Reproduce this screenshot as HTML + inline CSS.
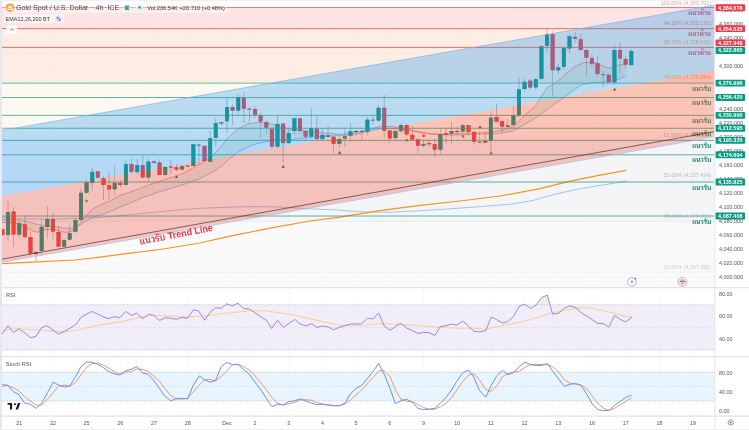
<!DOCTYPE html><html><head><meta charset="utf-8"><style>
html,body{margin:0;padding:0;background:#fff;width:749px;height:430px;overflow:hidden}
svg{display:block}
text{font-family:"Liberation Sans", "Noto Sans Thai Looped", sans-serif}
</style></head><body>
<svg width="749" height="430" viewBox="0 0 749 430">
<defs>
<clipPath id="cm"><rect x="2" y="0" width="712.5" height="287.5"/></clipPath>
<clipPath id="cr"><rect x="2" y="288" width="712.5" height="68"/></clipPath>
<clipPath id="cs"><rect x="2" y="357" width="712.5" height="59"/></clipPath>
</defs>
<rect x="0" y="0" width="749" height="430" fill="#ffffff"/>

<g clip-path="url(#cm)">
<rect x="2" y="0.00" width="712.5" height="8.28" fill="#ffffff"/>
<rect x="2" y="8.28" width="712.5" height="20.03" fill="#fde4e4"/>
<rect x="2" y="28.31" width="712.5" height="53.87" fill="#fdede3"/>
<rect x="2" y="82.19" width="712.5" height="58.01" fill="#fef9f0"/>
<rect x="2" y="140.20" width="712.5" height="40.75" fill="#f4f5f7"/>
<rect x="2" y="180.95" width="712.5" height="40.75" fill="#f4f5f7"/>
<rect x="2" y="221.70" width="712.5" height="50.42" fill="#fafafb"/>
<rect x="2" y="272.12" width="712.5" height="15.38" fill="#fafafb"/>
<line x1="2" x2="714.5" y1="140.20" y2="140.20" stroke="#e4e6ea" stroke-width="0.6"/>
<line x1="2" x2="714.5" y1="180.95" y2="180.95" stroke="#e4e6ea" stroke-width="0.6"/>
<line x1="2" x2="714.5" y1="221.70" y2="221.70" stroke="#e4e6ea" stroke-width="0.6"/>
<line x1="2" x2="714.5" y1="272.12" y2="272.12" stroke="#e4e6ea" stroke-width="0.6"/>
<line x1="19.2" x2="19.2" y1="0" y2="287.5" stroke="#dfe2e8" stroke-width="0.5" stroke-dasharray="0.8,0.8" opacity="0.45"/>
<line x1="52.9" x2="52.9" y1="0" y2="287.5" stroke="#dfe2e8" stroke-width="0.5" stroke-dasharray="0.8,0.8" opacity="0.45"/>
<line x1="86.6" x2="86.6" y1="0" y2="287.5" stroke="#dfe2e8" stroke-width="0.5" stroke-dasharray="0.8,0.8" opacity="0.45"/>
<line x1="120.3" x2="120.3" y1="0" y2="287.5" stroke="#dfe2e8" stroke-width="0.5" stroke-dasharray="0.8,0.8" opacity="0.45"/>
<line x1="154.0" x2="154.0" y1="0" y2="287.5" stroke="#dfe2e8" stroke-width="0.5" stroke-dasharray="0.8,0.8" opacity="0.45"/>
<line x1="187.7" x2="187.7" y1="0" y2="287.5" stroke="#dfe2e8" stroke-width="0.5" stroke-dasharray="0.8,0.8" opacity="0.45"/>
<line x1="227.0" x2="227.0" y1="0" y2="287.5" stroke="#dfe2e8" stroke-width="0.5" stroke-dasharray="0.8,0.8" opacity="0.45"/>
<line x1="255.1" x2="255.1" y1="0" y2="287.5" stroke="#dfe2e8" stroke-width="0.5" stroke-dasharray="0.8,0.8" opacity="0.45"/>
<line x1="288.8" x2="288.8" y1="0" y2="287.5" stroke="#dfe2e8" stroke-width="0.5" stroke-dasharray="0.8,0.8" opacity="0.45"/>
<line x1="322.5" x2="322.5" y1="0" y2="287.5" stroke="#dfe2e8" stroke-width="0.5" stroke-dasharray="0.8,0.8" opacity="0.45"/>
<line x1="356.1" x2="356.1" y1="0" y2="287.5" stroke="#dfe2e8" stroke-width="0.5" stroke-dasharray="0.8,0.8" opacity="0.45"/>
<line x1="389.8" x2="389.8" y1="0" y2="287.5" stroke="#dfe2e8" stroke-width="0.5" stroke-dasharray="0.8,0.8" opacity="0.45"/>
<line x1="423.5" x2="423.5" y1="0" y2="287.5" stroke="#dfe2e8" stroke-width="0.5" stroke-dasharray="0.8,0.8" opacity="0.45"/>
<line x1="457.2" x2="457.2" y1="0" y2="287.5" stroke="#dfe2e8" stroke-width="0.5" stroke-dasharray="0.8,0.8" opacity="0.45"/>
<line x1="490.9" x2="490.9" y1="0" y2="287.5" stroke="#dfe2e8" stroke-width="0.5" stroke-dasharray="0.8,0.8" opacity="0.45"/>
<line x1="524.6" x2="524.6" y1="0" y2="287.5" stroke="#dfe2e8" stroke-width="0.5" stroke-dasharray="0.8,0.8" opacity="0.45"/>
<line x1="558.3" x2="558.3" y1="0" y2="287.5" stroke="#dfe2e8" stroke-width="0.5" stroke-dasharray="0.8,0.8" opacity="0.45"/>
<line x1="592.0" x2="592.0" y1="0" y2="287.5" stroke="#dfe2e8" stroke-width="0.5" stroke-dasharray="0.8,0.8" opacity="0.45"/>
<line x1="625.7" x2="625.7" y1="0" y2="287.5" stroke="#dfe2e8" stroke-width="0.5" stroke-dasharray="0.8,0.8" opacity="0.45"/>
<line x1="659.4" x2="659.4" y1="0" y2="287.5" stroke="#dfe2e8" stroke-width="0.5" stroke-dasharray="0.8,0.8" opacity="0.45"/>
<line x1="693.0" x2="693.0" y1="0" y2="287.5" stroke="#dfe2e8" stroke-width="0.5" stroke-dasharray="0.8,0.8" opacity="0.45"/>
<line x1="2" x2="714.5" y1="277.3" y2="277.3" stroke="#dfe2e8" stroke-width="0.5" stroke-dasharray="0.8,0.8" opacity="0.45"/>
<line x1="2" x2="714.5" y1="263.3" y2="263.3" stroke="#dfe2e8" stroke-width="0.5" stroke-dasharray="0.8,0.8" opacity="0.45"/>
<line x1="2" x2="714.5" y1="249.3" y2="249.3" stroke="#dfe2e8" stroke-width="0.5" stroke-dasharray="0.8,0.8" opacity="0.45"/>
<line x1="2" x2="714.5" y1="235.2" y2="235.2" stroke="#dfe2e8" stroke-width="0.5" stroke-dasharray="0.8,0.8" opacity="0.45"/>
<line x1="2" x2="714.5" y1="221.2" y2="221.2" stroke="#dfe2e8" stroke-width="0.5" stroke-dasharray="0.8,0.8" opacity="0.45"/>
<line x1="2" x2="714.5" y1="207.2" y2="207.2" stroke="#dfe2e8" stroke-width="0.5" stroke-dasharray="0.8,0.8" opacity="0.45"/>
<line x1="2" x2="714.5" y1="193.2" y2="193.2" stroke="#dfe2e8" stroke-width="0.5" stroke-dasharray="0.8,0.8" opacity="0.45"/>
<line x1="2" x2="714.5" y1="179.1" y2="179.1" stroke="#dfe2e8" stroke-width="0.5" stroke-dasharray="0.8,0.8" opacity="0.45"/>
<line x1="2" x2="714.5" y1="165.1" y2="165.1" stroke="#dfe2e8" stroke-width="0.5" stroke-dasharray="0.8,0.8" opacity="0.45"/>
<line x1="2" x2="714.5" y1="151.1" y2="151.1" stroke="#dfe2e8" stroke-width="0.5" stroke-dasharray="0.8,0.8" opacity="0.45"/>
<line x1="2" x2="714.5" y1="137.1" y2="137.1" stroke="#dfe2e8" stroke-width="0.5" stroke-dasharray="0.8,0.8" opacity="0.45"/>
<line x1="2" x2="714.5" y1="123.1" y2="123.1" stroke="#dfe2e8" stroke-width="0.5" stroke-dasharray="0.8,0.8" opacity="0.45"/>
<line x1="2" x2="714.5" y1="109.0" y2="109.0" stroke="#dfe2e8" stroke-width="0.5" stroke-dasharray="0.8,0.8" opacity="0.45"/>
<line x1="2" x2="714.5" y1="95.0" y2="95.0" stroke="#dfe2e8" stroke-width="0.5" stroke-dasharray="0.8,0.8" opacity="0.45"/>
<line x1="2" x2="714.5" y1="81.0" y2="81.0" stroke="#dfe2e8" stroke-width="0.5" stroke-dasharray="0.8,0.8" opacity="0.45"/>
<line x1="2" x2="714.5" y1="67.0" y2="67.0" stroke="#dfe2e8" stroke-width="0.5" stroke-dasharray="0.8,0.8" opacity="0.45"/>
<line x1="2" x2="714.5" y1="52.9" y2="52.9" stroke="#dfe2e8" stroke-width="0.5" stroke-dasharray="0.8,0.8" opacity="0.45"/>
<line x1="2" x2="714.5" y1="38.9" y2="38.9" stroke="#dfe2e8" stroke-width="0.5" stroke-dasharray="0.8,0.8" opacity="0.45"/>
<line x1="2" x2="714.5" y1="24.9" y2="24.9" stroke="#dfe2e8" stroke-width="0.5" stroke-dasharray="0.8,0.8" opacity="0.45"/>
<line x1="2" x2="714.5" y1="10.9" y2="10.9" stroke="#dfe2e8" stroke-width="0.5" stroke-dasharray="0.8,0.8" opacity="0.45"/>
<text x="711" y="4.68" font-size="5.4" fill="#f4a0a0" text-anchor="end">100.00% (4,383.701)</text>
<text x="711" y="24.71" font-size="5.4" fill="#d0987c" text-anchor="end">94.20% (4,355.133)</text>
<text x="711" y="43.71" font-size="5.4" fill="#f0a862" text-anchor="end">88.70% (4,328.042)</text>
<text x="711" y="78.59" font-size="5.4" fill="#f0b070" text-anchor="end">78.60% (4,278.294)</text>
<text x="711" y="136.60" font-size="5.4" fill="#b8b8c0" text-anchor="end">61.80% (4,195.550)</text>
<text x="711" y="177.35" font-size="5.4" fill="#b8b8c0" text-anchor="end">50.00% (4,137.424)</text>
<text x="711" y="218.10" font-size="5.4" fill="#c8c8d0" text-anchor="end">38.20% (4,079.300)</text>
<text x="711" y="268.52" font-size="5.4" fill="#c8c8d0" text-anchor="end">23.60% (4,007.390)</text>
<polygon points="2.2,222.5 11.2,222.5 18.6,223.5 26.0,227.2 33.5,231.3 37.2,232.4 42.8,230.0 50.2,229.4 55.8,230.0 61.4,231.8 67.0,232.4 74.4,230.0 80.0,223.5 85.5,216.0 93.0,208.6 102.3,204.0 111.6,200.2 120.0,195.4 136.0,190.0 149.4,184.7 165.4,179.3 181.4,174.0 189.4,170.0 200.0,164.0 212.8,155.3 219.8,147.9 229.1,136.7 238.4,128.6 247.7,124.0 259.3,122.3 270.9,124.0 280.2,126.3 290.0,129.2 302.0,130.6 314.0,131.8 326.0,133.0 338.0,134.2 342.9,134.2 350.1,133.3 357.3,132.4 366.9,130.0 380.0,126.4 390.0,126.5 400.0,127.5 410.0,130.0 420.0,132.5 430.0,134.0 440.0,134.5 450.0,134.0 460.0,133.5 470.0,133.0 480.0,133.0 490.0,132.0 500.0,130.5 505.0,129.9 514.0,125.4 524.2,115.8 535.7,105.6 542.1,95.3 547.2,87.7 555.0,83.5 565.4,74.3 574.8,66.4 584.1,62.7 593.5,62.1 602.8,65.9 608.4,68.1 614.0,66.4 619.6,64.6 625.6,64.0 625.6,76.4 614.0,80.8 604.7,82.1 593.5,82.7 582.2,84.6 574.8,89.3 563.6,97.7 555.0,103.7 547.2,109.4 539.5,115.2 530.6,120.9 521.6,126.0 512.7,131.2 505.0,132.4 500.0,133.2 490.0,134.0 480.0,134.0 470.0,134.5 460.0,135.0 450.0,135.0 440.0,134.5 430.0,133.5 420.0,132.0 410.0,130.5 400.0,129.0 390.0,128.5 380.0,128.8 374.1,130.0 362.1,133.0 352.5,134.8 342.9,135.4 332.0,136.0 323.7,136.4 314.0,137.2 302.0,138.4 290.0,139.6 280.2,139.8 266.3,141.4 252.3,144.9 238.4,151.9 230.0,158.5 222.2,165.8 212.6,172.2 199.7,178.6 187.0,183.4 174.0,187.4 158.0,192.2 142.0,197.9 126.0,204.7 110.0,211.5 102.3,214.5 93.0,217.5 83.7,222.5 78.1,226.3 72.5,228.1 65.1,228.1 55.8,226.8 46.5,225.7 37.2,224.4 27.9,221.6 18.6,219.8 2.2,219.4" fill="#5aa860" opacity="0.13"/>
<polyline points="2.2,217.5 18.6,218.8 60.0,219.0 100.0,217.5 126.0,215.2 146.7,213.0 173.4,210.4 200.1,208.3 226.8,207.2 253.5,206.6 280.2,207.0 306.9,208.7 336.7,210.0 363.4,212.0 390.1,212.2 416.8,210.9 443.5,209.3 470.2,207.4 490.0,205.8 511.4,204.1 532.7,200.5 554.1,194.5 575.5,189.6 596.8,186.0 622.5,181.7 626.0,181.3" fill="none" stroke="#8fb8e8" stroke-width="0.8"/>
<polyline points="2.0,263.7 42.0,261.6 75.0,260.0 100.0,257.2 122.0,254.1 160.0,249.5 200.0,243.0 230.0,236.2 240.0,234.2 270.0,228.2 310.0,221.0 340.0,217.1 350.0,215.4 380.0,210.7 420.0,205.3 460.0,201.0 500.0,196.0 540.0,188.6 570.0,181.2 600.0,175.2 626.3,170.4" fill="none" stroke="#f7941d" stroke-width="1.2"/>
<polyline points="2.2,219.4 18.6,219.8 27.9,221.6 37.2,224.4 46.5,225.7 55.8,226.8 65.1,228.1 72.5,228.1 78.1,226.3 83.7,222.5 93.0,217.5 102.3,214.5 110.0,211.5 126.0,204.7 142.0,197.9 158.0,192.2 174.0,187.4 187.0,183.4 199.7,178.6 212.6,172.2 222.2,165.8 230.0,158.5 238.4,151.9 252.3,144.9 266.3,141.4 280.2,139.8 290.0,139.6 302.0,138.4 314.0,137.2 323.7,136.4 332.0,136.0 342.9,135.4 352.5,134.8 362.1,133.0 374.1,130.0 380.0,128.8 390.0,128.5 400.0,129.0 410.0,130.5 420.0,132.0 430.0,133.5 440.0,134.5 450.0,135.0 460.0,135.0 470.0,134.5 480.0,134.0 490.0,134.0 500.0,133.2 505.0,132.4 512.7,131.2 521.6,126.0 530.6,120.9 539.5,115.2 547.2,109.4 555.0,103.7 563.6,97.7 574.8,89.3 582.2,84.6 593.5,82.7 604.7,82.1 614.0,80.8 625.6,76.4" fill="none" stroke="#4a7fe0" stroke-width="0.6" opacity="0.8"/>
<polyline points="2.2,222.5 11.2,222.5 18.6,223.5 26.0,227.2 33.5,231.3 37.2,232.4 42.8,230.0 50.2,229.4 55.8,230.0 61.4,231.8 67.0,232.4 74.4,230.0 80.0,223.5 85.5,216.0 93.0,208.6 102.3,204.0 111.6,200.2 120.0,195.4 136.0,190.0 149.4,184.7 165.4,179.3 181.4,174.0 189.4,170.0 200.0,164.0 212.8,155.3 219.8,147.9 229.1,136.7 238.4,128.6 247.7,124.0 259.3,122.3 270.9,124.0 280.2,126.3 290.0,129.2 302.0,130.6 314.0,131.8 326.0,133.0 338.0,134.2 342.9,134.2 350.1,133.3 357.3,132.4 366.9,130.0 380.0,126.4 390.0,126.5 400.0,127.5 410.0,130.0 420.0,132.5 430.0,134.0 440.0,134.5 450.0,134.0 460.0,133.5 470.0,133.0 480.0,133.0 490.0,132.0 500.0,130.5 505.0,129.9 514.0,125.4 524.2,115.8 535.7,105.6 542.1,95.3 547.2,87.7 555.0,83.5 565.4,74.3 574.8,66.4 584.1,62.7 593.5,62.1 602.8,65.9 608.4,68.1 614.0,66.4 619.6,64.6 625.6,64.0" fill="none" stroke="#f04040" stroke-width="0.6" opacity="0.8"/>
<line x1="2.40" x2="2.40" y1="228.0" y2="236.0" stroke="#6b6e78" stroke-width="0.6" opacity="0.75"/>
<rect x="0.60" y="229.6" width="3.6" height="5.20" fill="#f5403c" stroke="#b02030" stroke-width="0.4"/>
<line x1="8.02" x2="8.02" y1="201.3" y2="240.3" stroke="#6b6e78" stroke-width="0.6" opacity="0.75"/>
<rect x="6.22" y="212.2" width="3.6" height="22.60" fill="#089981" stroke="#0a6b5a" stroke-width="0.4"/>
<line x1="13.63" x2="13.63" y1="207.7" y2="246.8" stroke="#6b6e78" stroke-width="0.6" opacity="0.75"/>
<rect x="11.83" y="211.79999999999998" width="3.6" height="22.50" fill="#f5403c" stroke="#b02030" stroke-width="0.4"/>
<line x1="19.24" x2="19.24" y1="220.5" y2="237.3" stroke="#6b6e78" stroke-width="0.6" opacity="0.75"/>
<rect x="17.44" y="223.7" width="3.6" height="10.60" fill="#089981" stroke="#0a6b5a" stroke-width="0.4"/>
<line x1="24.86" x2="24.86" y1="215.0" y2="238.3" stroke="#6b6e78" stroke-width="0.6" opacity="0.75"/>
<rect x="23.06" y="224.5" width="3.6" height="12.30" fill="#f5403c" stroke="#b02030" stroke-width="0.4"/>
<line x1="30.48" x2="30.48" y1="231.8" y2="256.0" stroke="#6b6e78" stroke-width="0.6" opacity="0.75"/>
<rect x="28.68" y="237.2" width="3.6" height="16.10" fill="#f5403c" stroke="#b02030" stroke-width="0.4"/>
<line x1="36.09" x2="36.09" y1="251.0" y2="261.0" stroke="#6b6e78" stroke-width="0.6" opacity="0.75"/>
<rect x="34.29" y="252.2" width="3.6" height="1.60" fill="#089981" stroke="#0a6b5a" stroke-width="0.4"/>
<line x1="41.70" x2="41.70" y1="218.5" y2="255.0" stroke="#6b6e78" stroke-width="0.6" opacity="0.75"/>
<rect x="39.91" y="227.0" width="3.6" height="23.80" fill="#089981" stroke="#0a6b5a" stroke-width="0.4"/>
<line x1="47.32" x2="47.32" y1="206.0" y2="238.3" stroke="#6b6e78" stroke-width="0.6" opacity="0.75"/>
<rect x="45.52" y="219.2" width="3.6" height="7.60" fill="#089981" stroke="#0a6b5a" stroke-width="0.4"/>
<line x1="52.94" x2="52.94" y1="212.6" y2="239.3" stroke="#6b6e78" stroke-width="0.6" opacity="0.75"/>
<rect x="51.14" y="219.2" width="3.6" height="12.40" fill="#f5403c" stroke="#b02030" stroke-width="0.4"/>
<line x1="58.55" x2="58.55" y1="225.5" y2="247.0" stroke="#6b6e78" stroke-width="0.6" opacity="0.75"/>
<rect x="56.75" y="232.2" width="3.6" height="14.00" fill="#f5403c" stroke="#b02030" stroke-width="0.4"/>
<line x1="64.17" x2="64.17" y1="238.3" y2="247.0" stroke="#6b6e78" stroke-width="0.6" opacity="0.75"/>
<rect x="62.37" y="240.2" width="3.6" height="6.40" fill="#089981" stroke="#0a6b5a" stroke-width="0.4"/>
<line x1="69.78" x2="69.78" y1="223.0" y2="240.3" stroke="#6b6e78" stroke-width="0.6" opacity="0.75"/>
<rect x="67.98" y="233.2" width="3.6" height="6.30" fill="#089981" stroke="#0a6b5a" stroke-width="0.4"/>
<line x1="75.40" x2="75.40" y1="217.5" y2="233.0" stroke="#6b6e78" stroke-width="0.6" opacity="0.75"/>
<rect x="73.60" y="220.2" width="3.6" height="11.40" fill="#089981" stroke="#0a6b5a" stroke-width="0.4"/>
<line x1="81.01" x2="81.01" y1="189.0" y2="221.5" stroke="#6b6e78" stroke-width="0.6" opacity="0.75"/>
<rect x="79.21" y="193.0" width="3.6" height="26.80" fill="#089981" stroke="#0a6b5a" stroke-width="0.4"/>
<line x1="86.63" x2="86.63" y1="180.0" y2="193.5" stroke="#6b6e78" stroke-width="0.6" opacity="0.75"/>
<rect x="84.83" y="182.6" width="3.6" height="10.00" fill="#089981" stroke="#0a6b5a" stroke-width="0.4"/>
<line x1="92.24" x2="92.24" y1="168.0" y2="190.9" stroke="#6b6e78" stroke-width="0.6" opacity="0.75"/>
<rect x="90.44" y="172.1" width="3.6" height="10.70" fill="#089981" stroke="#0a6b5a" stroke-width="0.4"/>
<line x1="97.86" x2="97.86" y1="171.0" y2="178.4" stroke="#6b6e78" stroke-width="0.6" opacity="0.75"/>
<rect x="96.06" y="171.7" width="3.6" height="5.90" fill="#f5403c" stroke="#b02030" stroke-width="0.4"/>
<line x1="103.47" x2="103.47" y1="176.0" y2="200.0" stroke="#6b6e78" stroke-width="0.6" opacity="0.75"/>
<rect x="101.67" y="178.6" width="3.6" height="6.20" fill="#f5403c" stroke="#b02030" stroke-width="0.4"/>
<line x1="109.09" x2="109.09" y1="171.9" y2="199.2" stroke="#6b6e78" stroke-width="0.6" opacity="0.75"/>
<rect x="107.29" y="185.5" width="3.6" height="3.60" fill="#f5403c" stroke="#b02030" stroke-width="0.4"/>
<line x1="114.70" x2="114.70" y1="165.6" y2="194.8" stroke="#6b6e78" stroke-width="0.6" opacity="0.75"/>
<rect x="112.90" y="183.2" width="3.6" height="5.90" fill="#089981" stroke="#0a6b5a" stroke-width="0.4"/>
<line x1="120.32" x2="120.32" y1="179.4" y2="187.7" stroke="#6b6e78" stroke-width="0.6" opacity="0.75"/>
<rect x="118.52" y="183.2" width="3.6" height="1.60" fill="#f5403c" stroke="#b02030" stroke-width="0.4"/>
<line x1="125.93" x2="125.93" y1="160.6" y2="185.3" stroke="#6b6e78" stroke-width="0.6" opacity="0.75"/>
<rect x="124.13" y="164.2" width="3.6" height="20.60" fill="#089981" stroke="#0a6b5a" stroke-width="0.4"/>
<line x1="131.55" x2="131.55" y1="158.7" y2="173.9" stroke="#6b6e78" stroke-width="0.6" opacity="0.75"/>
<rect x="129.75" y="164.2" width="3.6" height="7.50" fill="#f5403c" stroke="#b02030" stroke-width="0.4"/>
<line x1="137.16" x2="137.16" y1="159.2" y2="173.9" stroke="#6b6e78" stroke-width="0.6" opacity="0.75"/>
<rect x="135.36" y="165.39999999999998" width="3.6" height="6.50" fill="#089981" stroke="#0a6b5a" stroke-width="0.4"/>
<line x1="142.78" x2="142.78" y1="155.7" y2="178.4" stroke="#6b6e78" stroke-width="0.6" opacity="0.75"/>
<rect x="140.97" y="165.39999999999998" width="3.6" height="11.80" fill="#f5403c" stroke="#b02030" stroke-width="0.4"/>
<line x1="148.39" x2="148.39" y1="157.3" y2="181.4" stroke="#6b6e78" stroke-width="0.6" opacity="0.75"/>
<rect x="146.59" y="161.79999999999998" width="3.6" height="15.40" fill="#089981" stroke="#0a6b5a" stroke-width="0.4"/>
<line x1="154.01" x2="154.01" y1="160.0" y2="163.6" stroke="#6b6e78" stroke-width="0.6" opacity="0.75"/>
<rect x="152.21" y="161.79999999999998" width="3.6" height="1.00" fill="#f5403c" stroke="#b02030" stroke-width="0.4"/>
<line x1="159.62" x2="159.62" y1="159.2" y2="175.8" stroke="#6b6e78" stroke-width="0.6" opacity="0.75"/>
<rect x="157.82" y="162.79999999999998" width="3.6" height="12.00" fill="#f5403c" stroke="#b02030" stroke-width="0.4"/>
<line x1="165.24" x2="165.24" y1="166.0" y2="176.4" stroke="#6b6e78" stroke-width="0.6" opacity="0.75"/>
<rect x="163.44" y="167.2" width="3.6" height="7.60" fill="#089981" stroke="#0a6b5a" stroke-width="0.4"/>
<line x1="170.85" x2="170.85" y1="160.0" y2="173.9" stroke="#6b6e78" stroke-width="0.6" opacity="0.75"/>
<rect x="169.05" y="166.79999999999998" width="3.6" height="0.50" fill="#f5403c" stroke="#b02030" stroke-width="0.4"/>
<line x1="176.47" x2="176.47" y1="164.0" y2="171.5" stroke="#6b6e78" stroke-width="0.6" opacity="0.75"/>
<rect x="174.66" y="167.7" width="3.6" height="1.60" fill="#f5403c" stroke="#b02030" stroke-width="0.4"/>
<line x1="182.08" x2="182.08" y1="165.0" y2="170.5" stroke="#6b6e78" stroke-width="0.6" opacity="0.75"/>
<rect x="180.28" y="166.2" width="3.6" height="3.10" fill="#089981" stroke="#0a6b5a" stroke-width="0.4"/>
<line x1="187.70" x2="187.70" y1="165.0" y2="167.0" stroke="#6b6e78" stroke-width="0.6" opacity="0.75"/>
<rect x="185.90" y="165.79999999999998" width="3.6" height="0.60" fill="#f5403c" stroke="#b02030" stroke-width="0.4"/>
<line x1="193.31" x2="193.31" y1="143.3" y2="166.4" stroke="#6b6e78" stroke-width="0.6" opacity="0.75"/>
<rect x="191.51" y="144.5" width="3.6" height="21.30" fill="#089981" stroke="#0a6b5a" stroke-width="0.4"/>
<line x1="198.93" x2="198.93" y1="143.9" y2="164.0" stroke="#6b6e78" stroke-width="0.6" opacity="0.75"/>
<rect x="197.12" y="144.89999999999998" width="3.6" height="0.60" fill="#f5403c" stroke="#b02030" stroke-width="0.4"/>
<line x1="204.54" x2="204.54" y1="145.3" y2="162.0" stroke="#6b6e78" stroke-width="0.6" opacity="0.75"/>
<rect x="202.74" y="146.1" width="3.6" height="14.70" fill="#f5403c" stroke="#b02030" stroke-width="0.4"/>
<line x1="210.16" x2="210.16" y1="130.5" y2="162.5" stroke="#6b6e78" stroke-width="0.6" opacity="0.75"/>
<rect x="208.35" y="138.6" width="3.6" height="22.90" fill="#089981" stroke="#0a6b5a" stroke-width="0.4"/>
<line x1="215.77" x2="215.77" y1="118.6" y2="146.3" stroke="#6b6e78" stroke-width="0.6" opacity="0.75"/>
<rect x="213.97" y="123.3" width="3.6" height="14.50" fill="#089981" stroke="#0a6b5a" stroke-width="0.4"/>
<line x1="221.39" x2="221.39" y1="121.8" y2="125.5" stroke="#6b6e78" stroke-width="0.6" opacity="0.75"/>
<rect x="219.59" y="122.60000000000001" width="3.6" height="0.70" fill="#f5403c" stroke="#b02030" stroke-width="0.4"/>
<line x1="227.00" x2="227.00" y1="97.8" y2="132.8" stroke="#6b6e78" stroke-width="0.6" opacity="0.75"/>
<rect x="225.20" y="107.2" width="3.6" height="13.80" fill="#089981" stroke="#0a6b5a" stroke-width="0.4"/>
<line x1="232.62" x2="232.62" y1="104.2" y2="125.5" stroke="#6b6e78" stroke-width="0.6" opacity="0.75"/>
<rect x="230.81" y="107.2" width="3.6" height="3.30" fill="#f5403c" stroke="#b02030" stroke-width="0.4"/>
<line x1="238.23" x2="238.23" y1="93.9" y2="114.6" stroke="#6b6e78" stroke-width="0.6" opacity="0.75"/>
<rect x="236.43" y="97.5" width="3.6" height="13.00" fill="#089981" stroke="#0a6b5a" stroke-width="0.4"/>
<line x1="243.85" x2="243.85" y1="91.9" y2="123.0" stroke="#6b6e78" stroke-width="0.6" opacity="0.75"/>
<rect x="242.05" y="98.0" width="3.6" height="10.50" fill="#f5403c" stroke="#b02030" stroke-width="0.4"/>
<line x1="249.46" x2="249.46" y1="106.7" y2="122.5" stroke="#6b6e78" stroke-width="0.6" opacity="0.75"/>
<rect x="247.66" y="108.9" width="3.6" height="0.50" fill="#f5403c" stroke="#b02030" stroke-width="0.4"/>
<line x1="255.08" x2="255.08" y1="106.7" y2="117.6" stroke="#6b6e78" stroke-width="0.6" opacity="0.75"/>
<rect x="253.28" y="109.2" width="3.6" height="5.20" fill="#f5403c" stroke="#b02030" stroke-width="0.4"/>
<line x1="260.69" x2="260.69" y1="112.3" y2="138.4" stroke="#6b6e78" stroke-width="0.6" opacity="0.75"/>
<rect x="258.89" y="115.4" width="3.6" height="6.00" fill="#f5403c" stroke="#b02030" stroke-width="0.4"/>
<line x1="266.31" x2="266.31" y1="119.6" y2="134.4" stroke="#6b6e78" stroke-width="0.6" opacity="0.75"/>
<rect x="264.50" y="122.2" width="3.6" height="5.10" fill="#f5403c" stroke="#b02030" stroke-width="0.4"/>
<line x1="271.92" x2="271.92" y1="127.1" y2="149.2" stroke="#6b6e78" stroke-width="0.6" opacity="0.75"/>
<rect x="270.12" y="129.1" width="3.6" height="17.40" fill="#f5403c" stroke="#b02030" stroke-width="0.4"/>
<line x1="277.53" x2="277.53" y1="115.6" y2="148.2" stroke="#6b6e78" stroke-width="0.6" opacity="0.75"/>
<rect x="275.73" y="124.10000000000001" width="3.6" height="22.40" fill="#089981" stroke="#0a6b5a" stroke-width="0.4"/>
<line x1="283.15" x2="283.15" y1="123.3" y2="162.3" stroke="#6b6e78" stroke-width="0.6" opacity="0.75"/>
<rect x="281.35" y="123.9" width="3.6" height="19.00" fill="#f5403c" stroke="#b02030" stroke-width="0.4"/>
<line x1="288.76" x2="288.76" y1="129.6" y2="143.9" stroke="#6b6e78" stroke-width="0.6" opacity="0.75"/>
<rect x="286.96" y="133.2" width="3.6" height="9.70" fill="#089981" stroke="#0a6b5a" stroke-width="0.4"/>
<line x1="294.38" x2="294.38" y1="117.4" y2="135.2" stroke="#6b6e78" stroke-width="0.6" opacity="0.75"/>
<rect x="292.58" y="118.60000000000001" width="3.6" height="12.20" fill="#089981" stroke="#0a6b5a" stroke-width="0.4"/>
<line x1="300.00" x2="300.00" y1="117.4" y2="133.6" stroke="#6b6e78" stroke-width="0.6" opacity="0.75"/>
<rect x="298.19" y="118.60000000000001" width="3.6" height="12.20" fill="#f5403c" stroke="#b02030" stroke-width="0.4"/>
<line x1="305.61" x2="305.61" y1="129.6" y2="139.5" stroke="#6b6e78" stroke-width="0.6" opacity="0.75"/>
<rect x="303.81" y="131.2" width="3.6" height="5.40" fill="#f5403c" stroke="#b02030" stroke-width="0.4"/>
<line x1="311.22" x2="311.22" y1="107.5" y2="138.5" stroke="#6b6e78" stroke-width="0.6" opacity="0.75"/>
<rect x="309.42" y="128.5" width="3.6" height="7.90" fill="#089981" stroke="#0a6b5a" stroke-width="0.4"/>
<line x1="316.84" x2="316.84" y1="116.8" y2="139.5" stroke="#6b6e78" stroke-width="0.6" opacity="0.75"/>
<rect x="315.04" y="128.89999999999998" width="3.6" height="10.00" fill="#f5403c" stroke="#b02030" stroke-width="0.4"/>
<line x1="322.45" x2="322.45" y1="128.7" y2="139.5" stroke="#6b6e78" stroke-width="0.6" opacity="0.75"/>
<rect x="320.65" y="135.0" width="3.6" height="3.90" fill="#089981" stroke="#0a6b5a" stroke-width="0.4"/>
<line x1="328.07" x2="328.07" y1="125.3" y2="137.5" stroke="#6b6e78" stroke-width="0.6" opacity="0.75"/>
<rect x="326.27" y="135.39999999999998" width="3.6" height="1.40" fill="#f5403c" stroke="#b02030" stroke-width="0.4"/>
<line x1="333.69" x2="333.69" y1="135.6" y2="153.8" stroke="#6b6e78" stroke-width="0.6" opacity="0.75"/>
<rect x="331.88" y="137.0" width="3.6" height="6.70" fill="#f5403c" stroke="#b02030" stroke-width="0.4"/>
<line x1="339.30" x2="339.30" y1="135.2" y2="148.4" stroke="#6b6e78" stroke-width="0.6" opacity="0.75"/>
<rect x="337.50" y="139.29999999999998" width="3.6" height="4.40" fill="#089981" stroke="#0a6b5a" stroke-width="0.4"/>
<line x1="344.91" x2="344.91" y1="129.2" y2="147.0" stroke="#6b6e78" stroke-width="0.6" opacity="0.75"/>
<rect x="343.11" y="136.39999999999998" width="3.6" height="2.30" fill="#089981" stroke="#0a6b5a" stroke-width="0.4"/>
<line x1="350.53" x2="350.53" y1="123.3" y2="141.9" stroke="#6b6e78" stroke-width="0.6" opacity="0.75"/>
<rect x="348.73" y="131.39999999999998" width="3.6" height="4.00" fill="#089981" stroke="#0a6b5a" stroke-width="0.4"/>
<line x1="356.14" x2="356.14" y1="129.6" y2="135.6" stroke="#6b6e78" stroke-width="0.6" opacity="0.75"/>
<rect x="354.34" y="131.2" width="3.6" height="0.60" fill="#f5403c" stroke="#b02030" stroke-width="0.4"/>
<line x1="361.76" x2="361.76" y1="129.2" y2="139.5" stroke="#6b6e78" stroke-width="0.6" opacity="0.75"/>
<rect x="359.96" y="131.2" width="3.6" height="0.60" fill="#f5403c" stroke="#b02030" stroke-width="0.4"/>
<line x1="367.38" x2="367.38" y1="116.7" y2="135.5" stroke="#6b6e78" stroke-width="0.6" opacity="0.75"/>
<rect x="365.57" y="119.9" width="3.6" height="11.50" fill="#089981" stroke="#0a6b5a" stroke-width="0.4"/>
<line x1="372.99" x2="372.99" y1="115.8" y2="124.6" stroke="#6b6e78" stroke-width="0.6" opacity="0.75"/>
<rect x="371.19" y="119.9" width="3.6" height="0.60" fill="#f5403c" stroke="#b02030" stroke-width="0.4"/>
<line x1="378.61" x2="378.61" y1="104.9" y2="121.7" stroke="#6b6e78" stroke-width="0.6" opacity="0.75"/>
<rect x="376.81" y="108.0" width="3.6" height="12.50" fill="#089981" stroke="#0a6b5a" stroke-width="0.4"/>
<line x1="384.22" x2="384.22" y1="95.0" y2="137.5" stroke="#6b6e78" stroke-width="0.6" opacity="0.75"/>
<rect x="382.42" y="108.0" width="3.6" height="22.40" fill="#f5403c" stroke="#b02030" stroke-width="0.4"/>
<line x1="389.83" x2="389.83" y1="129.6" y2="142.4" stroke="#6b6e78" stroke-width="0.6" opacity="0.75"/>
<rect x="388.03" y="130.79999999999998" width="3.6" height="7.50" fill="#f5403c" stroke="#b02030" stroke-width="0.4"/>
<line x1="395.45" x2="395.45" y1="130.2" y2="141.4" stroke="#6b6e78" stroke-width="0.6" opacity="0.75"/>
<rect x="393.65" y="131.39999999999998" width="3.6" height="6.50" fill="#089981" stroke="#0a6b5a" stroke-width="0.4"/>
<line x1="401.06" x2="401.06" y1="123.4" y2="133.1" stroke="#6b6e78" stroke-width="0.6" opacity="0.75"/>
<rect x="399.26" y="125.2" width="3.6" height="5.80" fill="#089981" stroke="#0a6b5a" stroke-width="0.4"/>
<line x1="406.68" x2="406.68" y1="124.3" y2="136.1" stroke="#6b6e78" stroke-width="0.6" opacity="0.75"/>
<rect x="404.88" y="125.2" width="3.6" height="9.00" fill="#f5403c" stroke="#b02030" stroke-width="0.4"/>
<line x1="412.30" x2="412.30" y1="125.8" y2="139.7" stroke="#6b6e78" stroke-width="0.6" opacity="0.75"/>
<rect x="410.50" y="135.0" width="3.6" height="4.30" fill="#f5403c" stroke="#b02030" stroke-width="0.4"/>
<line x1="417.91" x2="417.91" y1="138.5" y2="153.2" stroke="#6b6e78" stroke-width="0.6" opacity="0.75"/>
<rect x="416.11" y="139.7" width="3.6" height="5.90" fill="#f5403c" stroke="#b02030" stroke-width="0.4"/>
<line x1="423.52" x2="423.52" y1="140.3" y2="147.3" stroke="#6b6e78" stroke-width="0.6" opacity="0.75"/>
<rect x="421.72" y="144.39999999999998" width="3.6" height="1.20" fill="#089981" stroke="#0a6b5a" stroke-width="0.4"/>
<line x1="429.14" x2="429.14" y1="139.0" y2="146.8" stroke="#6b6e78" stroke-width="0.6" opacity="0.75"/>
<rect x="427.34" y="143.6" width="3.6" height="0.50" fill="#f5403c" stroke="#b02030" stroke-width="0.4"/>
<line x1="434.75" x2="434.75" y1="138.5" y2="157.5" stroke="#6b6e78" stroke-width="0.6" opacity="0.75"/>
<rect x="432.95" y="144.39999999999998" width="3.6" height="5.10" fill="#f5403c" stroke="#b02030" stroke-width="0.4"/>
<line x1="440.37" x2="440.37" y1="128.7" y2="153.6" stroke="#6b6e78" stroke-width="0.6" opacity="0.75"/>
<rect x="438.57" y="134.6" width="3.6" height="14.90" fill="#089981" stroke="#0a6b5a" stroke-width="0.4"/>
<line x1="445.99" x2="445.99" y1="127.6" y2="143.4" stroke="#6b6e78" stroke-width="0.6" opacity="0.75"/>
<rect x="444.19" y="133.29999999999998" width="3.6" height="1.00" fill="#f5403c" stroke="#b02030" stroke-width="0.4"/>
<line x1="451.60" x2="451.60" y1="121.7" y2="143.4" stroke="#6b6e78" stroke-width="0.6" opacity="0.75"/>
<rect x="449.80" y="131.2" width="3.6" height="2.10" fill="#089981" stroke="#0a6b5a" stroke-width="0.4"/>
<line x1="457.21" x2="457.21" y1="126.6" y2="134.5" stroke="#6b6e78" stroke-width="0.6" opacity="0.75"/>
<rect x="455.41" y="131.2" width="3.6" height="0.60" fill="#f5403c" stroke="#b02030" stroke-width="0.4"/>
<line x1="462.83" x2="462.83" y1="123.6" y2="132.5" stroke="#6b6e78" stroke-width="0.6" opacity="0.75"/>
<rect x="461.03" y="125.4" width="3.6" height="5.90" fill="#089981" stroke="#0a6b5a" stroke-width="0.4"/>
<line x1="468.44" x2="468.44" y1="124.6" y2="135.5" stroke="#6b6e78" stroke-width="0.6" opacity="0.75"/>
<rect x="466.64" y="125.4" width="3.6" height="6.30" fill="#f5403c" stroke="#b02030" stroke-width="0.4"/>
<line x1="474.06" x2="474.06" y1="130.5" y2="144.9" stroke="#6b6e78" stroke-width="0.6" opacity="0.75"/>
<rect x="472.26" y="132.1" width="3.6" height="9.50" fill="#f5403c" stroke="#b02030" stroke-width="0.4"/>
<line x1="479.68" x2="479.68" y1="131.5" y2="143.0" stroke="#6b6e78" stroke-width="0.6" opacity="0.75"/>
<rect x="477.88" y="142.0" width="3.6" height="0.50" fill="#f5403c" stroke="#b02030" stroke-width="0.4"/>
<line x1="485.29" x2="485.29" y1="133.0" y2="143.4" stroke="#6b6e78" stroke-width="0.6" opacity="0.75"/>
<rect x="483.49" y="141.0" width="3.6" height="1.20" fill="#089981" stroke="#0a6b5a" stroke-width="0.4"/>
<line x1="490.90" x2="490.90" y1="110.8" y2="154.2" stroke="#6b6e78" stroke-width="0.6" opacity="0.75"/>
<rect x="489.10" y="117.9" width="3.6" height="22.30" fill="#089981" stroke="#0a6b5a" stroke-width="0.4"/>
<line x1="496.52" x2="496.52" y1="103.4" y2="122.6" stroke="#6b6e78" stroke-width="0.6" opacity="0.75"/>
<rect x="494.72" y="117.2" width="3.6" height="4.20" fill="#f5403c" stroke="#b02030" stroke-width="0.4"/>
<line x1="502.13" x2="502.13" y1="119.6" y2="133.5" stroke="#6b6e78" stroke-width="0.6" opacity="0.75"/>
<rect x="500.33" y="121.4" width="3.6" height="5.00" fill="#f5403c" stroke="#b02030" stroke-width="0.4"/>
<line x1="507.75" x2="507.75" y1="119.2" y2="127.6" stroke="#6b6e78" stroke-width="0.6" opacity="0.75"/>
<rect x="505.95" y="125.4" width="3.6" height="1.20" fill="#089981" stroke="#0a6b5a" stroke-width="0.4"/>
<line x1="513.37" x2="513.37" y1="106.2" y2="127.6" stroke="#6b6e78" stroke-width="0.6" opacity="0.75"/>
<rect x="511.56" y="115.5" width="3.6" height="9.30" fill="#089981" stroke="#0a6b5a" stroke-width="0.4"/>
<line x1="518.98" x2="518.98" y1="77.0" y2="117.3" stroke="#6b6e78" stroke-width="0.6" opacity="0.75"/>
<rect x="517.18" y="89.5" width="3.6" height="25.70" fill="#089981" stroke="#0a6b5a" stroke-width="0.4"/>
<line x1="524.60" x2="524.60" y1="78.6" y2="91.5" stroke="#6b6e78" stroke-width="0.6" opacity="0.75"/>
<rect x="522.80" y="82.0" width="3.6" height="6.80" fill="#089981" stroke="#0a6b5a" stroke-width="0.4"/>
<line x1="530.21" x2="530.21" y1="78.8" y2="90.0" stroke="#6b6e78" stroke-width="0.6" opacity="0.75"/>
<rect x="528.41" y="80.9" width="3.6" height="6.30" fill="#f5403c" stroke="#b02030" stroke-width="0.4"/>
<line x1="535.83" x2="535.83" y1="78.0" y2="90.0" stroke="#6b6e78" stroke-width="0.6" opacity="0.75"/>
<rect x="534.03" y="79.4" width="3.6" height="7.80" fill="#089981" stroke="#0a6b5a" stroke-width="0.4"/>
<line x1="541.44" x2="541.44" y1="45.4" y2="80.0" stroke="#6b6e78" stroke-width="0.6" opacity="0.75"/>
<rect x="539.64" y="46.400000000000006" width="3.6" height="32.20" fill="#089981" stroke="#0a6b5a" stroke-width="0.4"/>
<line x1="547.05" x2="547.05" y1="29.2" y2="51.5" stroke="#6b6e78" stroke-width="0.6" opacity="0.75"/>
<rect x="545.25" y="34.6" width="3.6" height="11.10" fill="#089981" stroke="#0a6b5a" stroke-width="0.4"/>
<line x1="552.67" x2="552.67" y1="31.0" y2="96.5" stroke="#6b6e78" stroke-width="0.6" opacity="0.75"/>
<rect x="550.87" y="34.300000000000004" width="3.6" height="35.70" fill="#f5403c" stroke="#b02030" stroke-width="0.4"/>
<line x1="558.28" x2="558.28" y1="64.0" y2="74.4" stroke="#6b6e78" stroke-width="0.6" opacity="0.75"/>
<rect x="556.49" y="67.60000000000001" width="3.6" height="2.50" fill="#089981" stroke="#0a6b5a" stroke-width="0.4"/>
<line x1="563.90" x2="563.90" y1="47.4" y2="70.5" stroke="#6b6e78" stroke-width="0.6" opacity="0.75"/>
<rect x="562.10" y="48.2" width="3.6" height="18.50" fill="#089981" stroke="#0a6b5a" stroke-width="0.4"/>
<line x1="569.51" x2="569.51" y1="33.8" y2="53.0" stroke="#6b6e78" stroke-width="0.6" opacity="0.75"/>
<rect x="567.72" y="36.5" width="3.6" height="11.70" fill="#089981" stroke="#0a6b5a" stroke-width="0.4"/>
<line x1="575.13" x2="575.13" y1="31.8" y2="42.8" stroke="#6b6e78" stroke-width="0.6" opacity="0.75"/>
<rect x="573.33" y="37.0" width="3.6" height="1.70" fill="#f5403c" stroke="#b02030" stroke-width="0.4"/>
<line x1="580.75" x2="580.75" y1="33.3" y2="50.7" stroke="#6b6e78" stroke-width="0.6" opacity="0.75"/>
<rect x="578.95" y="39.6" width="3.6" height="10.20" fill="#f5403c" stroke="#b02030" stroke-width="0.4"/>
<line x1="586.36" x2="586.36" y1="49.2" y2="76.8" stroke="#6b6e78" stroke-width="0.6" opacity="0.75"/>
<rect x="584.56" y="50.2" width="3.6" height="7.10" fill="#f5403c" stroke="#b02030" stroke-width="0.4"/>
<line x1="591.98" x2="591.98" y1="54.6" y2="66.5" stroke="#6b6e78" stroke-width="0.6" opacity="0.75"/>
<rect x="590.18" y="58.1" width="3.6" height="5.50" fill="#f5403c" stroke="#b02030" stroke-width="0.4"/>
<line x1="597.59" x2="597.59" y1="56.0" y2="76.0" stroke="#6b6e78" stroke-width="0.6" opacity="0.75"/>
<rect x="595.79" y="63.6" width="3.6" height="10.20" fill="#f5403c" stroke="#b02030" stroke-width="0.4"/>
<line x1="603.21" x2="603.21" y1="71.1" y2="86.5" stroke="#6b6e78" stroke-width="0.6" opacity="0.75"/>
<rect x="601.41" y="74.5" width="3.6" height="0.50" fill="#9598a1" stroke="#6b6e78" stroke-width="0.4"/>
<line x1="608.82" x2="608.82" y1="74.1" y2="83.2" stroke="#6b6e78" stroke-width="0.6" opacity="0.75"/>
<rect x="607.02" y="74.9" width="3.6" height="7.20" fill="#f5403c" stroke="#b02030" stroke-width="0.4"/>
<line x1="614.43" x2="614.43" y1="44.7" y2="85.0" stroke="#6b6e78" stroke-width="0.6" opacity="0.75"/>
<rect x="612.63" y="50.2" width="3.6" height="31.90" fill="#089981" stroke="#0a6b5a" stroke-width="0.4"/>
<line x1="620.05" x2="620.05" y1="42.4" y2="73.0" stroke="#6b6e78" stroke-width="0.6" opacity="0.75"/>
<rect x="618.25" y="50.2" width="3.6" height="8.10" fill="#f5403c" stroke="#b02030" stroke-width="0.4"/>
<line x1="625.66" x2="625.66" y1="55.8" y2="68.4" stroke="#6b6e78" stroke-width="0.6" opacity="0.75"/>
<rect x="623.87" y="59.1" width="3.6" height="5.30" fill="#f5403c" stroke="#b02030" stroke-width="0.4"/>
<line x1="631.28" x2="631.28" y1="48.9" y2="65.6" stroke="#6b6e78" stroke-width="0.6" opacity="0.75"/>
<rect x="629.48" y="51.2" width="3.6" height="13.70" fill="#089981" stroke="#0a6b5a" stroke-width="0.4"/>
<path d="M174.9,178.1 L176.5,175.4 L178.1,178.1Z" fill="#0f5a40"/>
<path d="M281.6,167.7 L283.2,165.0 L284.8,167.7Z" fill="#0f5a40"/>
<path d="M338.0,153.7 L339.6,151.0 L341.2,153.7Z" fill="#0f5a40"/>
<path d="M613.0,90.6 L614.6,87.9 L616.2,90.6Z" fill="#0f5a40"/>
<circle cx="86.6" cy="201" r="1.3" fill="#6a9a30"/>
<circle cx="406.9" cy="140.3" r="1.3" fill="#6a9a30"/>
<circle cx="463" cy="136.4" r="1.3" fill="#6a9a30"/>
<circle cx="491.1" cy="153.2" r="1.3" fill="#6a9a30"/>
<circle cx="423.6" cy="135.9" r="1.3" fill="#e83040"/>
<circle cx="480" cy="127.2" r="1.3" fill="#e83040"/>
<line x1="2" x2="714.5" y1="7.60" y2="7.60" stroke="#f0504a" stroke-width="1" opacity="0.85"/>
<text x="711" y="15.20" font-size="6.7" font-weight="500" fill="#f03444" text-anchor="end" style="font-family:'Liberation Sans', 'Noto Sans Thai Looped', sans-serif">แนวต้าน</text>
<line x1="2" x2="714.5" y1="28.66" y2="28.66" stroke="#f0504a" stroke-width="1" opacity="0.85"/>
<text x="711" y="36.26" font-size="6.7" font-weight="500" fill="#f03444" text-anchor="end" style="font-family:'Liberation Sans', 'Noto Sans Thai Looped', sans-serif">แนวต้าน</text>
<line x1="2" x2="714.5" y1="47.37" y2="47.37" stroke="#f0504a" stroke-width="1" opacity="0.85"/>
<text x="711" y="54.97" font-size="6.7" font-weight="500" fill="#f03444" text-anchor="end" style="font-family:'Liberation Sans', 'Noto Sans Thai Looped', sans-serif">แนวต้าน</text>
<line x1="2" x2="714.5" y1="83.10" y2="83.10" stroke="#2a9a7e" stroke-width="1" opacity="0.75"/>
<text x="711.5" y="90.70" font-size="6.7" font-weight="600" fill="#1a8a6a" text-anchor="end" style="font-family:'Liberation Sans', 'Noto Sans Thai Looped', sans-serif">แนวรับ</text>
<line x1="2" x2="714.5" y1="97.52" y2="97.52" stroke="#2a9a7e" stroke-width="1" opacity="0.75"/>
<text x="711.5" y="105.12" font-size="6.7" font-weight="600" fill="#1a8a6a" text-anchor="end" style="font-family:'Liberation Sans', 'Noto Sans Thai Looped', sans-serif">แนวรับ</text>
<line x1="2" x2="714.5" y1="115.35" y2="115.35" stroke="#2a9a7e" stroke-width="1" opacity="0.75"/>
<text x="711.5" y="122.95" font-size="6.7" font-weight="600" fill="#1a8a6a" text-anchor="end" style="font-family:'Liberation Sans', 'Noto Sans Thai Looped', sans-serif">แนวรับ</text>
<line x1="2" x2="714.5" y1="128.25" y2="128.25" stroke="#2a9a7e" stroke-width="1" opacity="0.75"/>
<text x="711.5" y="135.85" font-size="6.7" font-weight="600" fill="#1a8a6a" text-anchor="end" style="font-family:'Liberation Sans', 'Noto Sans Thai Looped', sans-serif">แนวรับ</text>
<line x1="2" x2="714.5" y1="140.35" y2="140.35" stroke="#2a9a7e" stroke-width="1" opacity="0.75"/>
<text x="711.5" y="147.95" font-size="6.7" font-weight="600" fill="#1a8a6a" text-anchor="end" style="font-family:'Liberation Sans', 'Noto Sans Thai Looped', sans-serif">แนวรับ</text>
<line x1="2" x2="714.5" y1="154.82" y2="154.82" stroke="#2a9a7e" stroke-width="1" opacity="0.75"/>
<text x="711.5" y="162.42" font-size="6.7" font-weight="600" fill="#1a8a6a" text-anchor="end" style="font-family:'Liberation Sans', 'Noto Sans Thai Looped', sans-serif">แนวรับ</text>
<line x1="2" x2="714.5" y1="182.07" y2="182.07" stroke="#2a9a7e" stroke-width="1" opacity="0.75"/>
<text x="711.5" y="189.67" font-size="6.7" font-weight="600" fill="#1a8a6a" text-anchor="end" style="font-family:'Liberation Sans', 'Noto Sans Thai Looped', sans-serif">แนวรับ</text>
<line x1="2" x2="714.5" y1="216.02" y2="216.02" stroke="#2a9a7e" stroke-width="1" opacity="0.75"/>
<text x="711.5" y="223.62" font-size="6.7" font-weight="600" fill="#1a8a6a" text-anchor="end" style="font-family:'Liberation Sans', 'Noto Sans Thai Looped', sans-serif">แนวรับ</text>
<polygon points="2,130.45 714.5,5.05 714.5,70.65 2,196.05" fill="#2196f3" fill-opacity="0.3"/>
<polygon points="2,196.05 714.5,70.65 714.5,136.85 2,262.25" fill="#f5402e" fill-opacity="0.29"/>
<line x1="2" y1="130.45" x2="714.5" y2="5.05" stroke="#7fb3ea" stroke-width="0.7"/>
<line x1="2" y1="262.25" x2="714.5" y2="136.85" stroke="#9cc4ee" stroke-width="0.7"/>
<line x1="2" y1="259.14" x2="714.5" y2="131.60" stroke="#3a3030" stroke-width="0.8" opacity="0.85"/>
<text x="0" y="0" font-size="9.8" font-weight="600" fill="#f0303a" transform="translate(140.1,244.9) rotate(-10.9)" textLength="74.5" lengthAdjust="spacingAndGlyphs">แนวรับ Trend Line</text>
<circle cx="631.9" cy="281.8" r="4.3" fill="#ffffff" stroke="#b89be6" stroke-width="0.9"/>
<path d="M632.8,279.2 L630.4,282.3 L631.9,282.3 L630.9,284.6 L633.4,281.3 L631.9,281.3Z" fill="#8a63d2"/>
<circle cx="635.2" cy="278.6" r="0.9" fill="#f23645"/>
<circle cx="682.2" cy="281.8" r="4.3" fill="#ffffff" stroke="#f58a8e" stroke-width="0.9"/>
<path d="M679.6,281.6 A2.6,2.6 0 0 1 684.8,281.6Z" fill="#8fc3f0"/><rect x="679.5" y="281.3" width="5.4" height="0.9" fill="#2a62d8"/><circle cx="684.6" cy="281.7" r="0.6" fill="#f23645"/><rect x="680.6" y="283.4" width="3.2" height="0.8" fill="#f23645"/>
</g>
<rect x="3" y="2.3" width="224" height="10.6" rx="1.5" fill="#ffffff" opacity="0.4"/>
<circle cx="10.0" cy="7.7" r="4.1" fill="#f0a02a"/>
<path d="M7.2,9.9 Q7.4,5.6 10,5.5 Q12.6,5.6 12.8,9.9Z" fill="#fff"/><circle cx="9.1" cy="8.6" r="0.75" fill="#f0a02a"/><circle cx="10.9" cy="8.6" r="0.75" fill="#f0a02a"/><circle cx="10" cy="7.1" r="0.6" fill="#f0a02a"/>
<text y="9.8" font-size="7.15" fill="#474a54"><tspan x="16">Gold Spot / U.S. Dollar</tspan><tspan x="92.1" text-anchor="middle">·</tspan><tspan x="95.6">4h</tspan><tspan x="105.8" text-anchor="middle">·</tspan><tspan x="107.4">ICE</tspan></text>
<path d="M124.9,5.5 H129.6 L128.1,7.75 L129.6,10 H124.9Z" fill="#3aa884"/>
<circle cx="139.6" cy="7.5" r="3.4" fill="#e3ebe8"/><circle cx="139.6" cy="7.5" r="2.6" fill="#f4f7f6"/><circle cx="139.6" cy="7.5" r="1.3" fill="#0b9a76"/>
<text x="147.2" y="9.6" font-size="6.2" fill="#3a3d45" textLength="77.8" lengthAdjust="spacingAndGlyphs">Vol 236.54K +20.710 (+0.48%)</text>
<rect x="4" y="14.3" width="60" height="9" rx="1.5" fill="#ffffff" opacity="0.55"/>
<text x="5.6" y="20.8" font-size="5.45" fill="#3a3d45">EMA12,26,200 BT</text>
<circle cx="58.6" cy="18.8" r="3.6" fill="#dde8fa"/><circle cx="57.6" cy="17.8" r="0.95" fill="#2962ff"/><circle cx="59.6" cy="19.8" r="0.95" fill="#2962ff"/>
<rect x="6.4" y="25.6" width="10.9" height="8.1" rx="1.2" fill="#ffffff" opacity="0.9"/>
<path d="M10.3,30.3 L11.85,28.8 L13.4,30.3" fill="none" stroke="#333" stroke-width="0.7"/>
<rect x="714.5" y="0" width="34.5" height="430" fill="#ffffff"/>
<line x1="714.8" x2="714.8" y1="0" y2="430" stroke="#e0e3eb" stroke-width="1"/>
<text x="719" y="278.80" font-size="5.4" fill="#50535e">4,000.000</text>
<text x="719" y="264.78" font-size="5.4" fill="#50535e">4,020.000</text>
<text x="719" y="250.75" font-size="5.4" fill="#50535e">4,040.000</text>
<text x="719" y="236.73" font-size="5.4" fill="#50535e">4,060.000</text>
<text x="719" y="222.71" font-size="5.4" fill="#50535e">4,080.000</text>
<text x="719" y="208.69" font-size="5.4" fill="#50535e">4,100.000</text>
<text x="719" y="194.67" font-size="5.4" fill="#50535e">4,120.000</text>
<text x="719" y="180.64" font-size="5.4" fill="#50535e">4,140.000</text>
<text x="719" y="166.62" font-size="5.4" fill="#50535e">4,160.000</text>
<text x="719" y="152.60" font-size="5.4" fill="#50535e">4,180.000</text>
<text x="719" y="138.58" font-size="5.4" fill="#50535e">4,200.000</text>
<text x="719" y="124.56" font-size="5.4" fill="#50535e">4,220.000</text>
<text x="719" y="110.53" font-size="5.4" fill="#50535e">4,240.000</text>
<text x="719" y="68.47" font-size="5.4" fill="#50535e">4,300.000</text>
<text x="719" y="40.42" font-size="5.4" fill="#50535e">4,340.000</text>
<text x="719" y="26.40" font-size="5.4" fill="#50535e">4,360.000</text>
<text x="719" y="12.38" font-size="5.4" fill="#50535e">4,380.000</text>
<rect x="715.6" y="4.15" width="29.4" height="6.9" rx="0.8" fill="#f23645"/>
<text x="730.3" y="9.55" font-size="5.5" font-weight="bold" fill="#ffffff" text-anchor="middle">4,384.678</text>
<rect x="715.6" y="25.21" width="29.4" height="6.9" rx="0.8" fill="#f23645"/>
<text x="730.3" y="30.61" font-size="5.5" font-weight="bold" fill="#ffffff" text-anchor="middle">4,354.635</text>
<rect x="715.6" y="39.40" width="29.4" height="6.9" rx="0.8" fill="#f23645"/>
<text x="730.3" y="44.80" font-size="5.5" font-weight="bold" fill="#ffffff" text-anchor="middle">4,327.948</text>
<rect x="715.6" y="47.05" width="29.4" height="6.9" rx="0.8" fill="#089981"/>
<text x="730.3" y="52.45" font-size="5.5" font-weight="bold" fill="#ffffff" text-anchor="middle">4,322.865</text>
<rect x="715.6" y="79.65" width="29.4" height="6.9" rx="0.8" fill="#089981"/>
<text x="730.3" y="85.05" font-size="5.5" font-weight="bold" fill="#ffffff" text-anchor="middle">4,276.996</text>
<rect x="715.6" y="94.07" width="29.4" height="6.9" rx="0.8" fill="#089981"/>
<text x="730.3" y="99.47" font-size="5.5" font-weight="bold" fill="#ffffff" text-anchor="middle">4,256.420</text>
<rect x="715.6" y="111.90" width="29.4" height="6.9" rx="0.8" fill="#089981"/>
<text x="730.3" y="117.30" font-size="5.5" font-weight="bold" fill="#ffffff" text-anchor="middle">4,230.990</text>
<rect x="715.6" y="124.80" width="29.4" height="6.9" rx="0.8" fill="#089981"/>
<text x="730.3" y="130.20" font-size="5.5" font-weight="bold" fill="#ffffff" text-anchor="middle">4,212.595</text>
<rect x="715.6" y="136.90" width="29.4" height="6.9" rx="0.8" fill="#089981"/>
<text x="730.3" y="142.30" font-size="5.5" font-weight="bold" fill="#ffffff" text-anchor="middle">4,195.335</text>
<rect x="715.6" y="151.37" width="29.4" height="6.9" rx="0.8" fill="#089981"/>
<text x="730.3" y="156.77" font-size="5.5" font-weight="bold" fill="#ffffff" text-anchor="middle">4,174.694</text>
<rect x="715.6" y="178.62" width="29.4" height="6.9" rx="0.8" fill="#089981"/>
<text x="730.3" y="184.02" font-size="5.5" font-weight="bold" fill="#ffffff" text-anchor="middle">4,135.825</text>
<rect x="715.6" y="212.57" width="29.4" height="6.9" rx="0.8" fill="#089981"/>
<text x="730.3" y="217.97" font-size="5.5" font-weight="bold" fill="#ffffff" text-anchor="middle">4,087.408</text>
<rect x="0" y="0" width="2" height="430" fill="#e6e8ee"/>
<rect x="0" y="0" width="749" height="1" fill="#eef0f3"/>
<line x1="0" x2="749" y1="287.7" y2="287.7" stroke="#e0e3eb" stroke-width="1.2"/>
<line x1="0" x2="749" y1="356.6" y2="356.6" stroke="#e0e3eb" stroke-width="1.2"/>
<line x1="0" x2="749" y1="416.1" y2="416.1" stroke="#e0e3eb" stroke-width="1.2"/>
<line x1="0" x2="749" y1="429.5" y2="429.5" stroke="#eceef2" stroke-width="1"/>
<g clip-path="url(#cr)">
<rect x="2" y="304.8" width="712.5" height="45.1" fill="#7e57c2" fill-opacity="0.1"/>
<line x1="19.2" x2="19.2" y1="288" y2="356" stroke="#e6e8ef" stroke-width="0.5" stroke-dasharray="1,1"/>
<line x1="52.9" x2="52.9" y1="288" y2="356" stroke="#e6e8ef" stroke-width="0.5" stroke-dasharray="1,1"/>
<line x1="86.6" x2="86.6" y1="288" y2="356" stroke="#e6e8ef" stroke-width="0.5" stroke-dasharray="1,1"/>
<line x1="120.3" x2="120.3" y1="288" y2="356" stroke="#e6e8ef" stroke-width="0.5" stroke-dasharray="1,1"/>
<line x1="154.0" x2="154.0" y1="288" y2="356" stroke="#e6e8ef" stroke-width="0.5" stroke-dasharray="1,1"/>
<line x1="187.7" x2="187.7" y1="288" y2="356" stroke="#e6e8ef" stroke-width="0.5" stroke-dasharray="1,1"/>
<line x1="227.0" x2="227.0" y1="288" y2="356" stroke="#e6e8ef" stroke-width="0.5" stroke-dasharray="1,1"/>
<line x1="255.1" x2="255.1" y1="288" y2="356" stroke="#e6e8ef" stroke-width="0.5" stroke-dasharray="1,1"/>
<line x1="288.8" x2="288.8" y1="288" y2="356" stroke="#e6e8ef" stroke-width="0.5" stroke-dasharray="1,1"/>
<line x1="322.5" x2="322.5" y1="288" y2="356" stroke="#e6e8ef" stroke-width="0.5" stroke-dasharray="1,1"/>
<line x1="356.1" x2="356.1" y1="288" y2="356" stroke="#e6e8ef" stroke-width="0.5" stroke-dasharray="1,1"/>
<line x1="389.8" x2="389.8" y1="288" y2="356" stroke="#e6e8ef" stroke-width="0.5" stroke-dasharray="1,1"/>
<line x1="423.5" x2="423.5" y1="288" y2="356" stroke="#e6e8ef" stroke-width="0.5" stroke-dasharray="1,1"/>
<line x1="457.2" x2="457.2" y1="288" y2="356" stroke="#e6e8ef" stroke-width="0.5" stroke-dasharray="1,1"/>
<line x1="490.9" x2="490.9" y1="288" y2="356" stroke="#e6e8ef" stroke-width="0.5" stroke-dasharray="1,1"/>
<line x1="524.6" x2="524.6" y1="288" y2="356" stroke="#e6e8ef" stroke-width="0.5" stroke-dasharray="1,1"/>
<line x1="558.3" x2="558.3" y1="288" y2="356" stroke="#e6e8ef" stroke-width="0.5" stroke-dasharray="1,1"/>
<line x1="592.0" x2="592.0" y1="288" y2="356" stroke="#e6e8ef" stroke-width="0.5" stroke-dasharray="1,1"/>
<line x1="625.7" x2="625.7" y1="288" y2="356" stroke="#e6e8ef" stroke-width="0.5" stroke-dasharray="1,1"/>
<line x1="659.4" x2="659.4" y1="288" y2="356" stroke="#e6e8ef" stroke-width="0.5" stroke-dasharray="1,1"/>
<line x1="693.0" x2="693.0" y1="288" y2="356" stroke="#e6e8ef" stroke-width="0.5" stroke-dasharray="1,1"/>
<line x1="2" x2="714.5" y1="316.1" y2="316.1" stroke="#e6e8ef" stroke-width="0.5" stroke-dasharray="1,1"/>
<line x1="2" x2="714.5" y1="338.6" y2="338.6" stroke="#e6e8ef" stroke-width="0.5" stroke-dasharray="1,1"/>
<line x1="2" x2="714.5" y1="304.8" y2="304.8" stroke="#b2b5be" stroke-width="0.7" stroke-dasharray="1.2,1.2"/>
<line x1="2" x2="714.5" y1="327.35" y2="327.35" stroke="#c8cad2" stroke-width="0.5" stroke-dasharray="1.2,1.2"/>
<line x1="2" x2="714.5" y1="349.9" y2="349.9" stroke="#b2b5be" stroke-width="0.7" stroke-dasharray="1.2,1.2"/>
<path d="M538,304.8 L541.7,297.5 L547.3,295 L549.2,304.8Z" fill="#4caf50" fill-opacity="0.15"/>
<polyline points="2.0,330.7 16.7,328.5 41.7,330.2 63.4,331.9 73.4,331.0 86.8,327.7 103.5,324.4 120.0,321.9 140.0,317.4 153.4,315.2 175.0,316.4 186.8,316.9 203.4,316.0 220.0,314.0 245.0,311.4 250.0,310.7 265.0,310.7 281.7,313.0 295.0,315.2 310.0,318.9 323.4,321.9 336.8,324.7 346.8,325.5 365.0,325.2 380.0,323.5 401.7,324.4 423.4,325.7 440.0,327.4 456.8,328.2 473.5,328.2 485.0,329.4 496.7,326.7 513.4,323.4 530.0,319.7 546.8,314.5 563.4,310.4 580.0,307.9 591.3,308.0 602.6,310.8 613.8,313.2 625.1,316.4 631.9,316.6" fill="none" stroke="#f8cf8e" stroke-width="1.1" opacity="0.9"/>
<polyline points="2.0,334.0 8.0,325.7 13.4,332.4 19.2,328.9 25.0,333.0 30.5,337.7 35.9,336.6 41.4,327.7 46.7,325.5 53.1,330.2 58.4,334.0 64.3,331.4 70.1,328.2 75.9,324.4 81.4,316.9 86.8,314.0 92.1,311.5 97.6,314.0 103.5,316.9 108.5,318.7 114.3,316.7 119.8,317.7 125.8,311.4 131.7,315.5 136.7,313.2 142.5,318.5 148.4,314.4 153.4,315.2 159.7,320.5 165.1,317.7 170.9,318.2 176.4,319.4 181.8,317.4 187.3,318.5 193.4,309.9 198.4,310.7 204.6,320.2 210.1,312.4 215.5,307.7 221.0,308.2 226.8,303.8 232.1,306.0 238.0,303.2 243.5,308.5 249.2,309.0 255.0,312.7 260.9,316.9 266.4,320.2 271.7,328.5 277.5,320.2 283.4,327.4 289.2,323.2 294.7,319.4 300.1,324.0 305.9,326.0 311.8,323.5 316.8,327.4 322.6,326.0 328.0,326.9 333.5,329.7 339.0,327.4 344.8,325.7 350.5,324.0 356.0,324.0 361.5,324.0 367.5,318.0 373.0,319.0 378.7,313.0 384.2,326.0 390.0,330.2 395.4,326.5 400.9,323.5 406.7,328.0 412.6,330.7 418.1,333.5 423.4,332.4 429.3,332.7 434.8,335.6 440.4,326.5 446.0,325.7 451.5,324.0 456.8,325.2 462.6,321.0 468.5,326.0 474.0,331.4 479.5,331.9 485.8,330.6 491.3,317.0 496.7,319.7 502.5,323.0 507.5,321.7 513.4,316.7 519.2,306.2 524.7,304.2 530.6,308.4 535.9,305.4 541.7,297.5 547.3,295.0 552.6,314.2 558.4,313.4 564.3,308.0 570.1,305.9 575.5,307.5 581.0,312.5 586.8,316.2 592.1,319.5 597.7,323.4 603.7,323.8 608.9,327.2 614.5,315.5 620.2,319.3 625.8,322.0 631.9,317.1" fill="none" stroke="#9d86dc" stroke-width="1.0"/>
</g>
<text x="5.9" y="297.1" font-size="5.6" fill="#50535e">RSI</text>
<text x="719" y="295.5" font-size="5.4" fill="#50535e">80.00</text>
<text x="719" y="318.29999999999995" font-size="5.4" fill="#50535e">60.00</text>
<text x="719" y="340.9" font-size="5.4" fill="#50535e">40.00</text>
<g clip-path="url(#cs)">
<rect x="2" y="372.2" width="712.5" height="28.7" fill="#2196f3" fill-opacity="0.1"/>
<line x1="19.2" x2="19.2" y1="357" y2="416" stroke="#e6e8ef" stroke-width="0.5" stroke-dasharray="1,1"/>
<line x1="52.9" x2="52.9" y1="357" y2="416" stroke="#e6e8ef" stroke-width="0.5" stroke-dasharray="1,1"/>
<line x1="86.6" x2="86.6" y1="357" y2="416" stroke="#e6e8ef" stroke-width="0.5" stroke-dasharray="1,1"/>
<line x1="120.3" x2="120.3" y1="357" y2="416" stroke="#e6e8ef" stroke-width="0.5" stroke-dasharray="1,1"/>
<line x1="154.0" x2="154.0" y1="357" y2="416" stroke="#e6e8ef" stroke-width="0.5" stroke-dasharray="1,1"/>
<line x1="187.7" x2="187.7" y1="357" y2="416" stroke="#e6e8ef" stroke-width="0.5" stroke-dasharray="1,1"/>
<line x1="227.0" x2="227.0" y1="357" y2="416" stroke="#e6e8ef" stroke-width="0.5" stroke-dasharray="1,1"/>
<line x1="255.1" x2="255.1" y1="357" y2="416" stroke="#e6e8ef" stroke-width="0.5" stroke-dasharray="1,1"/>
<line x1="288.8" x2="288.8" y1="357" y2="416" stroke="#e6e8ef" stroke-width="0.5" stroke-dasharray="1,1"/>
<line x1="322.5" x2="322.5" y1="357" y2="416" stroke="#e6e8ef" stroke-width="0.5" stroke-dasharray="1,1"/>
<line x1="356.1" x2="356.1" y1="357" y2="416" stroke="#e6e8ef" stroke-width="0.5" stroke-dasharray="1,1"/>
<line x1="389.8" x2="389.8" y1="357" y2="416" stroke="#e6e8ef" stroke-width="0.5" stroke-dasharray="1,1"/>
<line x1="423.5" x2="423.5" y1="357" y2="416" stroke="#e6e8ef" stroke-width="0.5" stroke-dasharray="1,1"/>
<line x1="457.2" x2="457.2" y1="357" y2="416" stroke="#e6e8ef" stroke-width="0.5" stroke-dasharray="1,1"/>
<line x1="490.9" x2="490.9" y1="357" y2="416" stroke="#e6e8ef" stroke-width="0.5" stroke-dasharray="1,1"/>
<line x1="524.6" x2="524.6" y1="357" y2="416" stroke="#e6e8ef" stroke-width="0.5" stroke-dasharray="1,1"/>
<line x1="558.3" x2="558.3" y1="357" y2="416" stroke="#e6e8ef" stroke-width="0.5" stroke-dasharray="1,1"/>
<line x1="592.0" x2="592.0" y1="357" y2="416" stroke="#e6e8ef" stroke-width="0.5" stroke-dasharray="1,1"/>
<line x1="625.7" x2="625.7" y1="357" y2="416" stroke="#e6e8ef" stroke-width="0.5" stroke-dasharray="1,1"/>
<line x1="659.4" x2="659.4" y1="357" y2="416" stroke="#e6e8ef" stroke-width="0.5" stroke-dasharray="1,1"/>
<line x1="693.0" x2="693.0" y1="357" y2="416" stroke="#e6e8ef" stroke-width="0.5" stroke-dasharray="1,1"/>
<line x1="2" x2="714.5" y1="372.2" y2="372.2" stroke="#b2b5be" stroke-width="0.7" stroke-dasharray="1.2,1.2"/>
<line x1="2" x2="714.5" y1="386.5" y2="386.5" stroke="#c8cad2" stroke-width="0.5" stroke-dasharray="1.2,1.2"/>
<line x1="2" x2="714.5" y1="400.9" y2="400.9" stroke="#b2b5be" stroke-width="0.7" stroke-dasharray="1.2,1.2"/>
<polyline points="2.0,384.2 7.5,385.4 13.4,388.0 18.4,390.4 24.7,396.7 30.0,400.9 36.4,405.1 41.7,405.1 47.6,399.2 53.1,392.6 58.4,386.4 64.3,385.0 69.8,386.2 75.4,382.5 80.9,375.0 86.4,367.5 91.8,363.7 97.6,363.0 103.1,365.0 108.5,368.0 114.3,371.7 119.8,374.2 125.8,372.2 131.7,371.2 137.0,368.9 142.5,369.5 148.0,371.4 153.4,375.9 159.2,380.9 164.7,388.4 170.9,395.9 176.4,398.9 181.8,399.2 187.6,398.4 193.4,391.7 199.3,385.0 204.3,380.0 210.1,379.2 215.5,380.9 221.5,376.4 226.8,370.9 232.7,364.5 238.2,364.2 244.2,367.0 249.2,370.0 255.0,375.9 260.9,382.9 266.4,390.0 272.0,397.6 277.5,403.4 283.4,405.1 288.7,403.7 294.2,402.6 300.1,400.1 305.6,399.6 311.4,400.4 316.8,402.6 322.3,403.9 328.0,404.7 333.5,405.4 339.3,405.9 344.8,404.2 350.5,400.1 356.0,395.0 361.5,390.0 367.5,383.4 373.0,377.5 378.7,370.9 384.2,370.5 390.0,376.7 395.4,390.0 400.9,399.2 406.7,401.2 412.6,401.7 418.1,404.7 423.4,407.6 429.3,409.2 434.8,409.2 440.4,406.7 446.0,403.4 451.5,397.6 456.8,390.0 462.6,381.7 468.5,375.0 474.0,373.9 479.5,380.0 485.8,389.7 491.3,391.4 496.7,385.9 502.5,376.7 508.0,373.4 513.4,372.2 519.2,371.4 524.7,367.5 530.6,364.7 535.9,364.2 541.7,364.7 547.3,364.7 552.6,366.7 558.4,371.7 564.3,379.7 570.1,383.4 575.5,384.2 581.0,385.0 586.8,388.7 592.4,396.3 598.0,403.7 603.7,408.2 608.9,410.5 614.5,408.2 620.2,404.8 625.8,401.4 631.4,397.8" fill="none" stroke="#f5966a" stroke-width="1.0"/>
<polyline points="2.0,386.4 7.5,385.0 13.4,391.7 18.4,394.2 24.7,403.1 30.0,404.2 36.4,408.4 41.7,403.1 47.6,392.6 53.1,382.0 58.4,385.0 64.3,387.0 69.8,385.9 75.4,376.7 80.9,366.7 86.4,362.2 91.8,362.2 97.6,364.2 103.1,367.5 108.5,371.4 114.3,373.9 119.8,375.0 125.8,370.5 131.7,369.2 137.0,366.4 142.5,373.0 148.0,374.2 153.4,380.0 159.2,388.0 164.7,395.9 170.9,400.9 176.4,398.4 181.8,398.4 187.6,398.7 193.4,385.0 199.3,375.9 204.3,379.7 210.1,382.2 215.5,380.4 221.5,366.2 226.8,362.5 232.7,364.7 238.2,364.5 244.2,370.0 249.2,374.2 255.0,382.2 260.9,390.0 266.4,398.4 272.0,406.7 277.5,404.2 283.4,404.7 288.7,401.7 294.2,400.9 300.1,398.9 305.6,400.9 311.4,403.1 316.8,404.7 322.3,404.2 328.0,405.1 333.5,405.9 339.3,405.6 344.8,403.1 350.5,393.7 356.0,388.4 361.5,385.5 367.5,378.4 373.0,371.4 378.7,363.4 384.2,374.2 390.0,388.4 395.4,403.7 400.9,400.9 406.7,399.2 412.6,402.6 418.1,408.4 423.4,409.6 429.3,409.2 434.8,408.4 440.4,403.1 446.0,397.6 451.5,390.0 456.8,381.4 462.6,372.9 468.5,370.0 474.0,377.5 479.5,390.6 485.8,397.2 491.3,385.4 496.7,375.9 502.5,370.4 508.0,374.7 513.4,372.5 519.2,367.0 524.7,362.2 530.6,364.7 535.9,365.4 541.7,365.5 547.3,363.4 552.6,370.9 558.4,378.7 564.3,386.4 570.1,384.2 575.5,383.4 581.0,385.4 586.8,394.2 592.4,404.2 598.0,409.8 603.7,410.5 608.9,410.5 614.5,405.3 620.2,401.4 625.8,397.4 631.4,395.1" fill="none" stroke="#6494f3" stroke-width="1.0"/>
</g>
<text x="5.8" y="365.7" font-size="5.6" fill="#50535e">Stoch RSI</text>
<text x="719" y="374.5" font-size="5.4" fill="#50535e">80.00</text>
<text x="719" y="393.59999999999997" font-size="5.4" fill="#50535e">40.00</text>
<text x="719" y="412.79999999999995" font-size="5.4" fill="#50535e">0.00</text>
<path d="M7.6,403.1 H12.1 V409.5 H10 V404.8 H7.6Z" fill="#131722"/><circle cx="15" cy="404.2" r="1.0" fill="#131722"/><path d="M17.9,403.1 L20.3,403.1 L17.9,409.5 L15.6,409.5Z" fill="#131722"/>
<text x="19.2" y="424.6" font-size="5.4" fill="#50535e" text-anchor="middle">21</text>
<text x="52.9" y="424.6" font-size="5.4" fill="#50535e" text-anchor="middle">22</text>
<text x="86.6" y="424.6" font-size="5.4" fill="#50535e" text-anchor="middle">25</text>
<text x="120.3" y="424.6" font-size="5.4" fill="#50535e" text-anchor="middle">26</text>
<text x="154.0" y="424.6" font-size="5.4" fill="#50535e" text-anchor="middle">27</text>
<text x="187.7" y="424.6" font-size="5.4" fill="#50535e" text-anchor="middle">28</text>
<text x="227.0" y="424.6" font-size="5.4" fill="#50535e" text-anchor="middle">Dec</text>
<text x="255.1" y="424.6" font-size="5.4" fill="#50535e" text-anchor="middle">2</text>
<text x="288.8" y="424.6" font-size="5.4" fill="#50535e" text-anchor="middle">3</text>
<text x="322.5" y="424.6" font-size="5.4" fill="#50535e" text-anchor="middle">4</text>
<text x="356.1" y="424.6" font-size="5.4" fill="#50535e" text-anchor="middle">5</text>
<text x="389.8" y="424.6" font-size="5.4" fill="#50535e" text-anchor="middle">6</text>
<text x="423.5" y="424.6" font-size="5.4" fill="#50535e" text-anchor="middle">9</text>
<text x="457.2" y="424.6" font-size="5.4" fill="#50535e" text-anchor="middle">10</text>
<text x="490.9" y="424.6" font-size="5.4" fill="#50535e" text-anchor="middle">11</text>
<text x="524.6" y="424.6" font-size="5.4" fill="#50535e" text-anchor="middle">12</text>
<text x="558.3" y="424.6" font-size="5.4" fill="#50535e" text-anchor="middle">13</text>
<text x="592.0" y="424.6" font-size="5.4" fill="#50535e" text-anchor="middle">16</text>
<text x="625.7" y="424.6" font-size="5.4" fill="#50535e" text-anchor="middle">17</text>
<text x="659.4" y="424.6" font-size="5.4" fill="#50535e" text-anchor="middle">18</text>
<text x="693.0" y="424.6" font-size="5.4" fill="#50535e" text-anchor="middle">19</text>
<circle cx="730.7" cy="422.5" r="2.6" fill="none" stroke="#50535e" stroke-width="0.6"/><circle cx="730.7" cy="422.5" r="0.9" fill="#50535e"/>
</svg></body></html>
